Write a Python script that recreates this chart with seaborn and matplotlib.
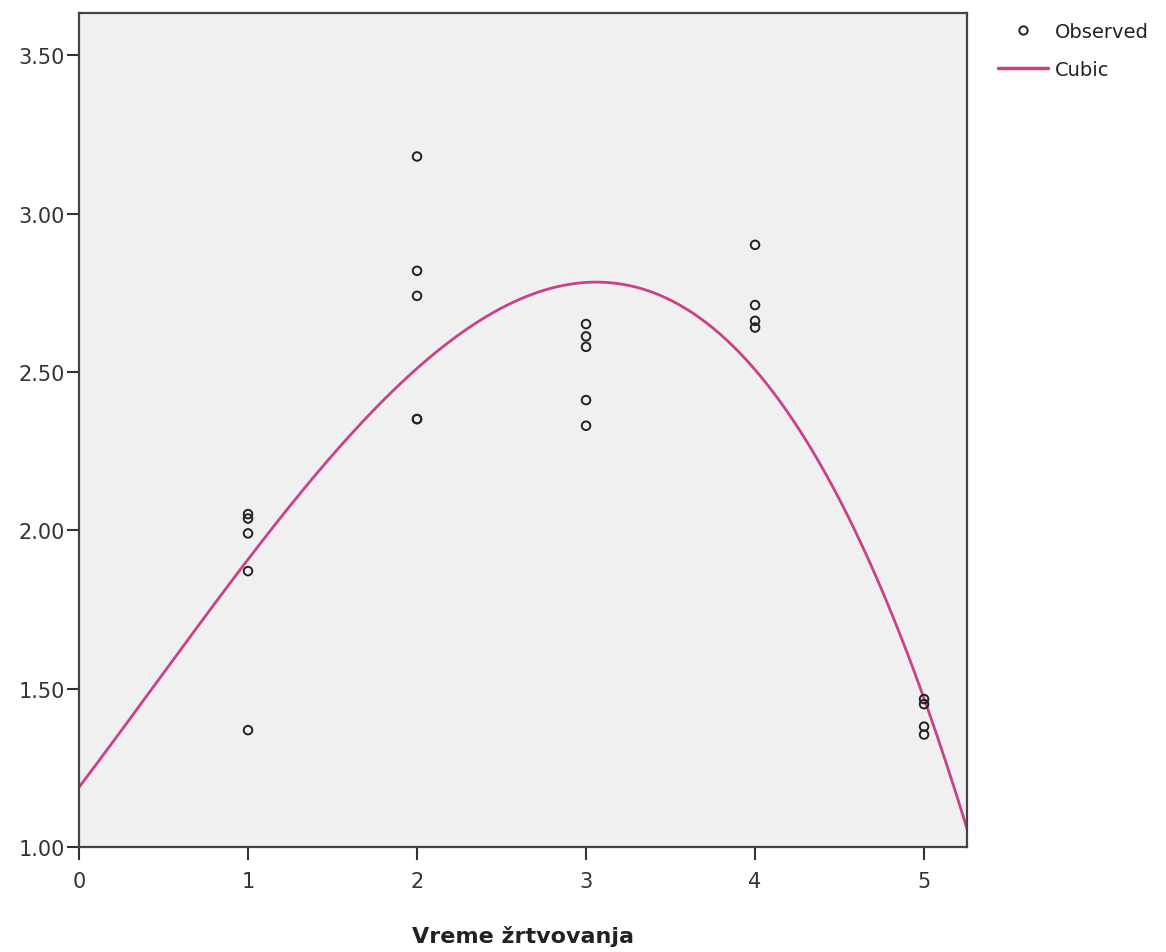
import numpy as np
import pandas as pd
import matplotlib
matplotlib.use("Agg")
import matplotlib.pyplot as plt
import seaborn as sns
from matplotlib.lines import Line2D

# ---- data ----
time_1 = [2.051, 2.037, 1.990, 1.871, 1.369]
time_2 = [3.180, 2.819, 2.740, 2.351, 2.351]
time_3 = [2.651, 2.612, 2.579, 2.411, 2.330]
time_4 = [2.901, 2.711, 2.661, 2.640]
time_5 = [1.467, 1.451, 1.380, 1.355]
groups = [1, 2, 3, 4, 5]
x_ticks = [0, 1, 2, 3, 4, 5]
y_ticks = [1.00, 1.50, 2.00, 2.50, 3.00, 3.50]
x_label = "Vreme žrtvovanja"
legend_labels = ["Observed", "Cubic"]

xs, ys = [], []
for g, vals in zip(groups, [time_1, time_2, time_3, time_4, time_5]):
    xs += [g] * len(vals)
    ys += vals
obs = pd.DataFrame({"x": xs, "y": ys})

# cubic fit of observed data
coef = np.polyfit(obs["x"], obs["y"], 3)
x_min, x_max = 0.0, 5.254
xx = np.linspace(x_min, x_max, 400)
fit = pd.DataFrame({"x": xx, "y": np.polyval(coef, xx)})

sns.set_style("white")
plt.rcParams["font.family"] = ["DejaVu Sans"]

fig = plt.figure(figsize=(11.66, 9.53), dpi=100)
ax = fig.add_axes([79/1166, 1-848/953, (967-79)/1166, (848-14)/953])
ax.set_facecolor("#F0F0F0")

line_color = "#C8418A"
sns.lineplot(data=fit, x="x", y="y", ax=ax, color=line_color, linewidth=2.0, clip_on=True)
sns.scatterplot(data=obs, x="x", y="y", ax=ax, marker="o", s=38,
                facecolors="none", edgecolor="#222222", linewidth=1.4, zorder=3)

ax.set_xlim(x_min, x_max)
ax.set_ylim(1.0, 3.633)
ax.set_xticks(x_ticks)
ax.set_yticks(y_ticks)
ax.set_yticklabels([f"{v:.2f}" for v in y_ticks])
ax.tick_params(axis="both", which="major", bottom=True, left=True, direction="out",
               length=9, width=1.5, color="#333333",
               labelsize=15, labelcolor="#333333", pad=1)
ax.tick_params(axis="x", pad=8)
for s in ax.spines.values():
    s.set_color("#444444")
    s.set_linewidth(1.6)
ax.set_xlabel(x_label, fontsize=16, fontweight="bold", color="#222222", labelpad=25)
ax.set_ylabel("")

handles = [
    Line2D([], [], marker="o", linestyle="none", markerfacecolor="none",
           markeredgecolor="#222222", markeredgewidth=1.4, markersize=6),
    Line2D([], [], color=line_color, linewidth=2.5),
]
fig.legend(handles, legend_labels, loc="upper left", bbox_to_anchor=(990/1166, 1-15/953),
           frameon=False, fontsize=14, handlelength=2.6, handletextpad=0.35,
           labelspacing=1.0, labelcolor="#222222", borderaxespad=0)

fig.savefig("out.png", dpi=100)
